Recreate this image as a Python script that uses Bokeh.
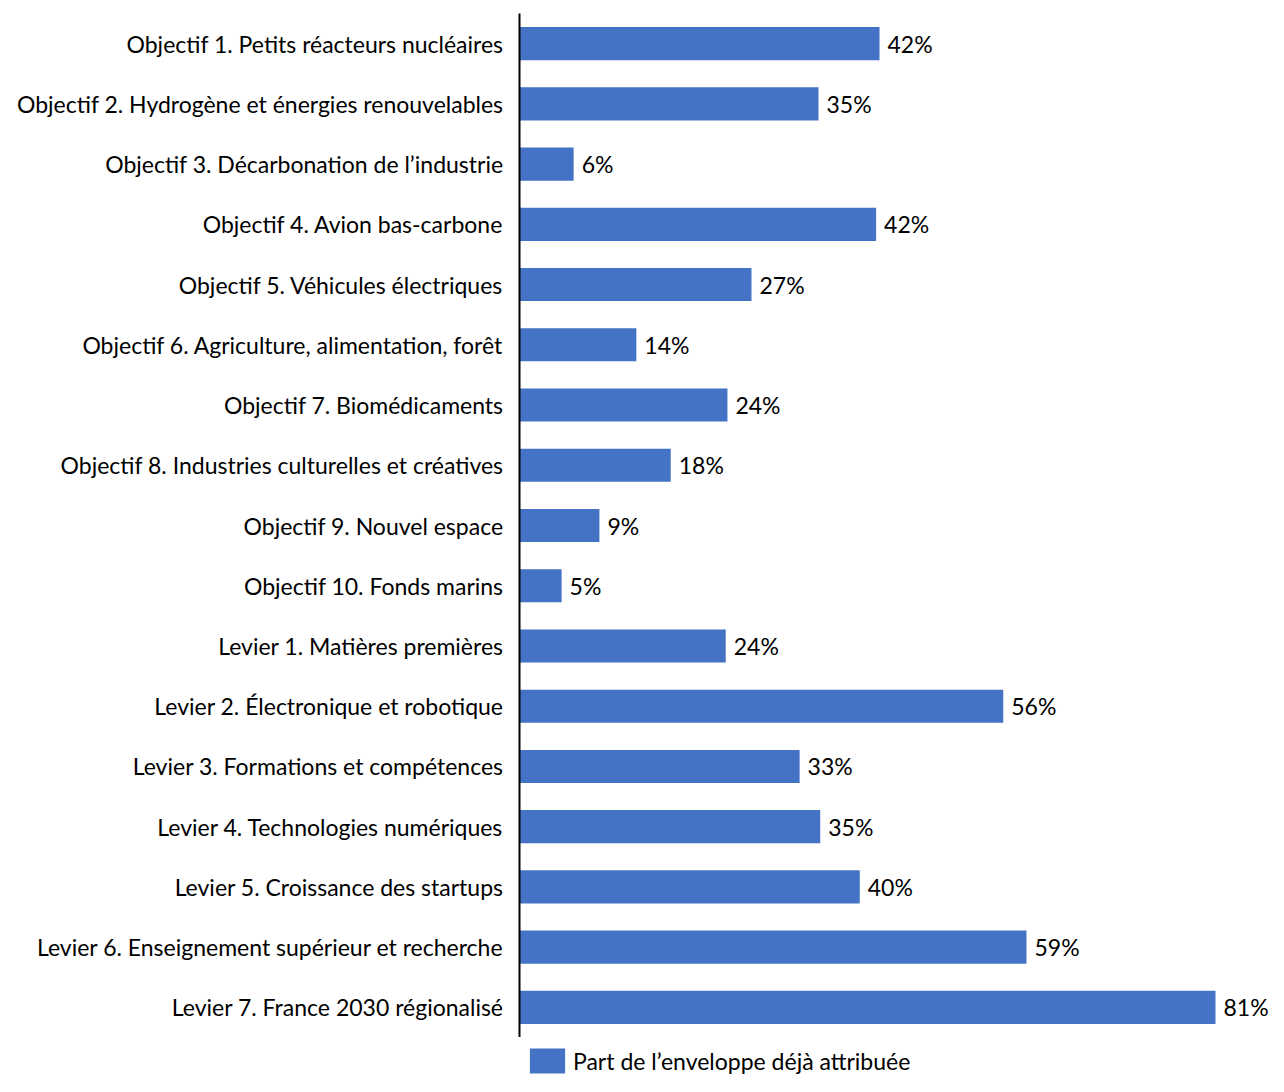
from bokeh.plotting import figure
from bokeh.layouts import column
from bokeh.models import ColumnDataSource, FactorRange, Range1d, Legend, LegendItem
from bokeh.core.properties import value
from bokeh.embed import file_html
from bokeh.resources import INLINE

categories = [
    "Objectif 1. Petits réacteurs nucléaires",
    "Objectif 2. Hydrogène et énergies renouvelables",
    "Objectif 3. Décarbonation de l’industrie",
    "Objectif 4. Avion bas-carbone",
    "Objectif 5. Véhicules électriques",
    "Objectif 6. Agriculture, alimentation, forêt",
    "Objectif 7. Biomédicaments",
    "Objectif 8. Industries culturelles et créatives",
    "Objectif 9. Nouvel espace",
    "Objectif 10. Fonds marins",
    "Levier 1. Matières premières",
    "Levier 2. Électronique et robotique",
    "Levier 3. Formations et compétences",
    "Levier 4. Technologies numériques",
    "Levier 5. Croissance des startups",
    "Levier 6. Enseignement supérieur et recherche",
    "Levier 7. France 2030 régionalisé",
]
values = [41.9, 34.8, 6.3, 41.5, 27.0, 13.6, 24.2, 17.6, 9.3, 4.9,
          24.0, 56.3, 32.6, 35.0, 39.6, 59.0, 81.0]
labels = [f"{round(v)}%" for v in values]
series_name = "Part de l’enveloppe déjà attribuée"

FONT = "Lato"
FS = "23px"
BLUE = "#4472C4"

src = ColumnDataSource(dict(cat=categories, val=values, lab=labels))

p = figure(
    width=1276, height=1037,
    y_range=FactorRange(*reversed(categories), range_padding=0),
    x_range=Range1d(0, 88.1),
    output_backend="svg", toolbar_location=None,
    min_border_left=519, min_border_right=0, min_border_top=13, min_border_bottom=0,
)
p.outline_line_color = None
p.grid.visible = False
p.xaxis.visible = False

r = p.hbar(y="cat", right="val", left=0, height=0.55, source=src,
           fill_color=BLUE, line_color=None)

p.text(x="val", y="cat", text="lab", source=src, x_offset=8,
       text_baseline="middle", text_align="left",
       text_font=value(FONT), text_font_size=FS, text_color="#000000")

ax = p.yaxis[0]
ax.axis_line_color = "#000000"
ax.axis_line_width = 2
ax.major_tick_line_color = None
ax.minor_tick_line_color = None
ax.major_tick_out = 0
ax.major_tick_in = 0
ax.major_label_standoff = 16
ax.major_label_text_font = FONT
ax.major_label_text_font_size = FS
ax.major_label_text_color = "#000000"

# legend strip below the chart (its frame is aligned with the chart's frame)
lg = figure(width=1276, height=39,
            x_range=Range1d(-2, -1),
            y_range=FactorRange(*reversed(categories), range_padding=0),
            output_backend="svg", toolbar_location=None,
            min_border_left=519, min_border_right=0, min_border_top=0, min_border_bottom=0)
lg.outline_line_color = None
lg.grid.visible = False
lg.xaxis.visible = False
lg.yaxis.visible = False
# same series, kept out of this strip's visible range; only its legend entry shows
lr = lg.hbar(y="cat", right="val", left=0, height=0.55, source=src,
             fill_color=BLUE, line_color=None)

legend = Legend(items=[LegendItem(label=series_name, renderers=[lr])],
                location=(6, 0), orientation="horizontal",
                margin=0, padding=0, glyph_width=44, glyph_height=31,
                label_standoff=4, label_text_font=FONT, label_height=31,
                label_text_font_size=FS, label_text_color="#000000",
                border_line_color=None, background_fill_alpha=0)
lg.add_layout(legend, "center")

layout = column(p, lg, spacing=0)
open("out.html", "w").write(file_html(layout, INLINE))
